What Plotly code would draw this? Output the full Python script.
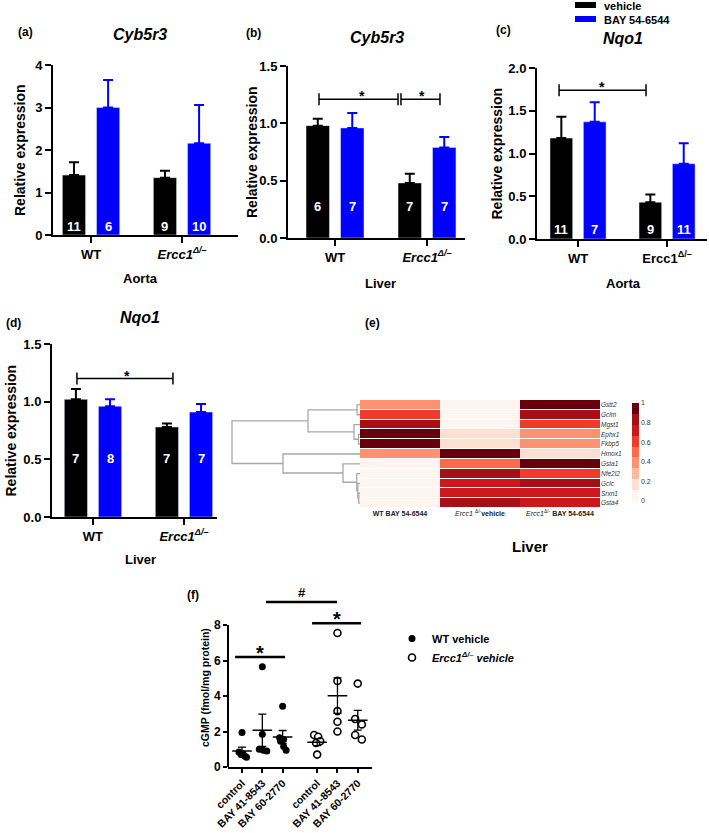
import numpy as np
import plotly.graph_objects as go

W, H = 709, 833

# ---------------- bar panels (a)-(d): mean, SEM, n ----------------
groups = ["WT", "Ercc1"]

a_vehicle = [1.41, 1.35]
a_vehicle_sem = [0.30, 0.16]
a_bay = [3.00, 2.16]
a_bay_sem = [0.65, 0.90]
a_n_vehicle = [11, 9]
a_n_bay = [6, 10]

b_vehicle = [0.98, 0.48]
b_vehicle_sem = [0.06, 0.08]
b_bay = [0.96, 0.79]
b_bay_sem = [0.13, 0.09]
b_n_vehicle = [6, 7]
b_n_bay = [7, 7]

c_vehicle = [1.18, 0.43]
c_vehicle_sem = [0.25, 0.09]
c_bay = [1.37, 0.88]
c_bay_sem = [0.23, 0.24]
c_n_vehicle = [11, 9]
c_n_bay = [7, 11]

d_vehicle = [1.02, 0.78]
d_vehicle_sem = [0.09, 0.03]
d_bay = [0.96, 0.91]
d_bay_sem = [0.06, 0.07]
d_n_vehicle = [7, 7]
d_n_bay = [8, 7]

# ---------------- heatmap (e) ----------------
genes = ["Gstt2", "Gclm", "Mgst1", "Ephx1", "Fkbp5", "Hmox1",
         "Gsta1", "Nfe2l2", "Gclc", "Srxn1", "Gsta4"]
conditions = ["<b>WT BAY 54-6544</b>",
              "<i>Ercc1</i> <sup>Δ/-</sup><b>vehicle</b>",
              "<i>Ercc1</i><sup>Δ/-</sup> <b>BAY 54-6544</b>"]
wt_bay = [0.40, 0.62, 0.85, 0.97, 0.97, 0.40, 0.03, 0.03, 0.03, 0.03, 0.03]
ercc1_vehicle = [0.03, 0.03, 0.03, 0.15, 0.15, 0.97, 0.50, 0.85, 0.72, 0.72, 0.85]
ercc1_bay = [0.97, 0.85, 0.62, 0.40, 0.40, 0.15, 0.97, 0.62, 0.85, 0.72, 0.72]
# row dendrogram merges: (left, right, height); ids >= 11 are earlier merges
linkage = [(0, 1, 0.3), (3, 4, 0.15), (2, 12, 0.6), (11, 13, 5.2),
           (9, 10, 0.12), (8, 15, 0.22), (7, 16, 0.32), (6, 17, 1.7),
           (5, 18, 7.7), (14, 19, 12.8)]

# ---------------- cGMP (f) ----------------
f_labels = ["control", "BAY 41-8543", "BAY 60-2770"] * 2
wt_control = [1.95, 0.85, 0.75, 0.70, 0.60, 0.55]
wt_bay41 = [5.65, 1.85, 1.00, 0.95, 0.90]
wt_bay60 = [3.42, 1.65, 1.55, 1.45, 1.15, 0.95]
ko_control = [1.80, 1.70, 1.45, 1.35, 0.70]
ko_bay41 = [7.55, 4.85, 3.15, 2.55, 2.00]
ko_bay60 = [4.70, 2.70, 2.40, 1.80, 1.55]

FONT = "Liberation Sans, Arial, sans-serif"
BLUE = "#0000ff"


def px(x):
    return x / W


def py(y):
    return 1 - y / H


fig = go.Figure()
annotations = []
shapes = []
layout = {}


def note(text, x, y, size=13, **kw):
    d = dict(text=text, x=px(x), y=py(y), xref="paper", yref="paper",
             xanchor="center", yanchor="middle", showarrow=False,
             font=dict(size=size, family=FONT, color="black"))
    d.update(kw)
    annotations.append(d)


# ---- bar panels ----
ercc_it = "<i>Ercc1<sup>Δ/–</sup></i>"
ercc_up = "Ercc1<sup>Δ/–</sup>"
panels = [
    dict(n=1, veh=a_vehicle, vs=a_vehicle_sem, bay=a_bay, bs=a_bay_sem,
         nv=a_n_vehicle, nb=a_n_bay, xpx=(53, 238), ypx=(65, 235),
         xr=(-0.418, 1.615), ymax=4, ticks=[0, 1, 2, 3, 4], fmt="{:.0f}",
         title="Cyb5r3", title_xy=(140, 35), letter="(a)", letter_xy=(25, 32),
         tissue="Aorta", tissue_xy=(140, 278), ytx=20, npx=9, ercc=ercc_it,
         brackets=[]),
    dict(n=2, veh=b_vehicle, vs=b_vehicle_sem, bay=b_bay, bs=b_bay_sem,
         nv=b_n_vehicle, nb=b_n_bay, xpx=(288, 465), ypx=(66, 238),
         xr=(-0.511, 1.413), ymax=1.5, ticks=[0, 0.5, 1, 1.5], fmt="{:.1f}",
         title="Cyb5r3", title_xy=(377, 37), letter="(b)", letter_xy=(253, 33),
         tissue="Liver", tissue_xy=(380, 283), ytx=252, npx=31, ercc=ercc_it,
         brackets=[(-0.174, 0.685, 1.21, 0.29), (0.717, 1.141, 1.21, 0.946)],
         tick_half=0.052),
    dict(n=3, veh=c_vehicle, vs=c_vehicle_sem, bay=c_bay, bs=c_bay_sem,
         nv=c_n_vehicle, nb=c_n_bay, xpx=(537, 707), ypx=(68, 239),
         xr=(-0.461, 1.449), ymax=2, ticks=[0, 0.5, 1, 1.5, 2], fmt="{:.1f}",
         title="Nqo1", title_xy=(623, 38), letter="(c)", letter_xy=(503, 30),
         tissue="Aorta", tissue_xy=(623, 283), ytx=496, npx=10, ercc=ercc_up,
         brackets=[(-0.213, 0.764, 1.74, 0.27)], tick_half=0.07),
    dict(n=4, veh=d_vehicle, vs=d_vehicle_sem, bay=d_bay, bs=d_bay_sem,
         nv=d_n_vehicle, nb=d_n_bay, xpx=(52, 217), ypx=(344, 517),
         xr=(-0.45, 1.363), ymax=1.5, ticks=[0, 0.5, 1, 1.5], fmt="{:.1f}",
         title="Nqo1", title_xy=(140, 317), letter="(d)", letter_xy=(13, 323),
         tissue="Liver", tissue_xy=(140, 559), ytx=10, npx=59, ercc=ercc_it,
         brackets=[(-0.176, 0.879, 1.2, 0.37)], tick_half=0.052),
]

for p in panels:
    n = p["n"]
    xa = "x" if n == 1 else f"x{n}"
    ya = "y" if n == 1 else f"y{n}"
    x = list(range(len(groups)))
    fig.add_trace(go.Bar(
        x=x, y=p["veh"], name="vehicle", marker_color="black", showlegend=False,
        error_y=dict(type="data", array=p["vs"], arrayminus=[0] * len(x), symmetric=False,
                     color="black", thickness=2, width=5),
        xaxis=xa, yaxis=ya))
    fig.add_trace(go.Bar(
        x=x, y=p["bay"], name="BAY 54-6544", marker_color=BLUE, showlegend=False,
        error_y=dict(type="data", array=p["bs"], arrayminus=[0] * len(x), symmetric=False,
                     color=BLUE, thickness=2, width=5),
        xaxis=xa, yaxis=ya))
    dom_h = p["ypx"][1] - p["ypx"][0]
    for i in x:
        for off, cnt in ((-0.1875, p["nv"][i]), (0.1875, p["nb"][i])):
            annotations.append(dict(
                text=f"<b>{cnt}</b>", x=i + off, xref=xa, y=p["npx"] / dom_h,
                yref=f"{ya} domain", xanchor="center", yanchor="middle", showarrow=False,
                font=dict(size=13, family=FONT, color="white")))
    layout["xaxis" if n == 1 else f"xaxis{n}"] = dict(
        domain=[px(p["xpx"][0]), px(p["xpx"][1])], range=list(p["xr"]), anchor=ya,
        tickvals=x, ticktext=["<b>WT</b>", f"<b>{p['ercc']}</b>"],
        showline=True, linewidth=2, linecolor="black", ticks="outside", ticklen=6,
        tickwidth=2, tickcolor="black", showgrid=False, zeroline=False,
        tickfont=dict(size=13, family=FONT, color="black"))
    layout["yaxis" if n == 1 else f"yaxis{n}"] = dict(
        domain=[py(p["ypx"][1]), py(p["ypx"][0])], range=[0, p["ymax"]], anchor=xa,
        tickvals=p["ticks"], ticktext=[p["fmt"].format(t) for t in p["ticks"]],
        showline=True, linewidth=2, linecolor="black", ticks="outside", ticklen=6,
        tickwidth=2, tickcolor="black", showgrid=False, zeroline=False,
        tickfont=dict(size=13, family=FONT, color="black", weight="bold"))
    note(f"<b><i>{p['title']}</i></b>", *p["title_xy"], size=16)
    note(f"<b>{p['letter']}</b>", *p["letter_xy"], size=12)
    note(f"<b>{p['tissue']}</b>", *p["tissue_xy"], size=13)
    note("<b>Relative expression</b>", p["ytx"], (p["ypx"][0] + p["ypx"][1]) / 2,
         size=14, textangle=-90)
    for x0, x1, yb, sx in p["brackets"]:
        th = p["tick_half"]
        ln = dict(type="line", xref=xa, yref=ya, line=dict(color="black", width=1.5))
        shapes.append(dict(ln, x0=x0, x1=x1, y0=yb, y1=yb))
        shapes.append(dict(ln, x0=x0, x1=x0, y0=yb - th, y1=yb + th))
        shapes.append(dict(ln, x0=x1, x1=x1, y0=yb - th, y1=yb + th))
        annotations.append(dict(text="<b>*</b>", x=sx, xref=xa, y=yb, yref=ya,
                                xanchor="center", yanchor="middle", yshift=3,
                                showarrow=False,
                                font=dict(size=14, family=FONT, color="black")))

# legend for bars (top right)
for yy, col, lab in ((5, "black", "vehicle"), (19, BLUE, "BAY 54-6544")):
    shapes.append(dict(type="rect", xref="paper", yref="paper", x0=px(575), x1=px(596),
                       y0=py(yy + 3), y1=py(yy - 3), fillcolor=col, line=dict(width=0)))
    note(f"<b>{lab}</b>", 602, yy + 1, size=11, xanchor="left")

# ---- heatmap (e) ----
reds = ["#fff5f0", "#fee0d2", "#fcbba1", "#fc9272", "#fb6a4a",
        "#ef3b2c", "#cb181d", "#a50f15", "#67000d"]
cscale = []
for i, c in enumerate(reds):
    cscale += [[i / len(reds), c], [(i + 1) / len(reds), c]]
z = np.array([wt_bay, ercc1_vehicle, ercc1_bay]).T
fig.add_trace(go.Heatmap(
    z=z, x=[0, 1, 2], y=list(range(len(genes))), colorscale=cscale, zmin=0, zmax=1,
    ygap=1, xaxis="x5", yaxis="y5", hoverinfo="skip",
    colorbar=dict(x=px(632), xanchor="left", y=py(452), yanchor="middle",
                  len=98, lenmode="pixels", thickness=7, thicknessmode="pixels",
                  tickvals=[0, 0.2, 0.4, 0.6, 0.8, 1],
                  ticktext=["0", "0.2", "0.4", "0.6", "0.8", "1"],
                  tickfont=dict(size=7, family=FONT, color="#333"),
                  outlinewidth=0, ticks="", xpad=0, ypad=0)))
hm_top, hm_bot = 400, 508
layout["xaxis5"] = dict(domain=[px(360), px(600)], range=[-0.5, 2.5], anchor="y5",
                        tickvals=[0, 1, 2], ticktext=conditions, ticks="",
                        showline=False, showgrid=False, zeroline=False,
                        tickfont=dict(size=7, family=FONT, color="#222"))
layout["yaxis5"] = dict(domain=[py(hm_bot), py(hm_top)], range=[len(genes) - 0.5, -0.5],
                        anchor="x5", side="right", tickvals=list(range(len(genes))),
                        ticktext=genes, ticks="", showline=False, showgrid=False,
                        zeroline=False,
                        tickfont=dict(size=6.5, family=FONT, color="#333", style="italic"))

# dendrogram
pos = {i: float(i) for i in range(len(genes))}
hgt = {i: 0.0 for i in range(len(genes))}
dx, dy = [], []
for k, (l, r, h) in enumerate(linkage):
    cid = len(genes) + k
    dx += [hgt[l], h, h, hgt[r], None]
    dy += [pos[l], pos[l], pos[r], pos[r], None]
    pos[cid] = (pos[l] + pos[r]) / 2
    hgt[cid] = h
fig.add_trace(go.Scatter(x=dx, y=dy, mode="lines", line=dict(color="#a8a8a8", width=1.3),
                         showlegend=False, hoverinfo="skip", xaxis="x6", yaxis="y6"))
layout["xaxis6"] = dict(domain=[px(230), px(360)], range=[13, 0], anchor="y6", visible=False)
layout["yaxis6"] = dict(domain=[py(hm_bot), py(hm_top)], range=[len(genes) - 0.5, -0.5],
                        anchor="x6", visible=False)
note("<b>(e)</b>", 372, 323, size=12)
note("<b>Liver</b>", 530, 546, size=15)

# ---- cGMP (f) ----
f_pos = [0, 1, 2, 3.7, 4.7, 5.7]
f_offsets = [
    [0, -0.15, 0.05, -0.05, 0.15, 0.22],
    [0, 0, -0.15, 0.05, 0.22],
    [0, -0.15, 0.05, -0.1, 0.05, 0.17],
    [-0.15, 0.05, 0.15, -0.05, 0],
    [0, 0, 0, 0, 0],
    [0, -0.13, 0.2, -0.13, 0.2],
]
f_sets = [wt_control, wt_bay41, wt_bay60, ko_control, ko_bay41, ko_bay60]
for gi, (vals, offs) in enumerate(zip(f_sets, f_offsets)):
    ko = gi >= 3
    first = gi in (0, 3)
    fig.add_trace(go.Scatter(
        x=[f_pos[gi] + o for o in offs], y=vals, mode="markers",
        name=("<i>Ercc1<sup>Δ/–</sup> vehicle</i>" if ko else "WT vehicle"),
        legendgroup="ko" if ko else "wt", showlegend=first,
        marker=dict(size=7, color="white" if ko else "black",
                    line=dict(color="black", width=1.6 if ko else 0)),
        xaxis="x7", yaxis="y7"))
    arr = np.array(vals)
    fig.add_trace(go.Scatter(
        x=[f_pos[gi]], y=[arr.mean()], mode="markers", showlegend=False,
        marker=dict(symbol="line-ew", size=14, line=dict(color="black", width=1.5)),
        error_y=dict(type="data", array=[arr.std(ddof=1) / np.sqrt(len(arr))],
                     color="black", thickness=1.3, width=4),
        xaxis="x7", yaxis="y7"))

f_bot, f_ppu = 767, 17.75
f_ymax = 10
layout["xaxis7"] = dict(domain=[px(228), px(372)], range=[-0.69, 6.4], anchor="y7",
                        tickvals=f_pos, ticktext=f_labels, tickangle=-45,
                        showline=True, linewidth=2, linecolor="black", ticks="outside",
                        ticklen=4, tickwidth=1.5, tickcolor="black", showgrid=False,
                        zeroline=False,
                        tickfont=dict(size=10.5, family=FONT, color="black", weight="bold"))
layout["yaxis7"] = dict(domain=[py(f_bot), py(f_bot - f_ymax * f_ppu)], range=[0, f_ymax],
                        anchor="x7", tickvals=[0, 2, 4, 6, 8], showline=False,
                        ticks="outside", ticklen=4, tickwidth=2, tickcolor="black",
                        showgrid=False, zeroline=False,
                        tickfont=dict(size=12, family=FONT, color="black", weight="bold"))
shapes.append(dict(type="line", xref="x7 domain", yref="y7", x0=0, x1=0, y0=0, y1=8,
                   line=dict(color="black", width=2)))
for x0, x1, yb, txt, sz, ys in ((-0.34, 2.12, 6.2, "*", 20, 4),
                                (3.45, 5.86, 8.1, "*", 20, 4),
                                (1.18, 4.68, 9.3, "#", 13, 9)):
    shapes.append(dict(type="line", xref="x7", yref="y7", x0=x0, x1=x1, y0=yb, y1=yb,
                       line=dict(color="black", width=2.5)))
    annotations.append(dict(text=f"<b>{txt}</b>", x=(x0 + x1) / 2, xref="x7", y=yb,
                            yref="y7", xanchor="center", yanchor="middle", yshift=ys,
                            showarrow=False,
                            font=dict(size=sz, family=FONT, color="black")))
note("<b>(f)</b>", 193, 595, size=12)
note("<b>cGMP (fmol/mg protein)</b>", 205, 688, size=10.5, textangle=-90)

layout.update(
    width=W, height=H, margin=dict(l=0, r=0, t=0, b=0, autoexpand=False),
    paper_bgcolor="white", plot_bgcolor="white",
    barmode="group", bargap=0.25, bargroupgap=0.32,
    font=dict(family=FONT, color="black"),
    showlegend=True,
    legend=dict(x=px(392), y=py(624), xanchor="left", yanchor="top",
                bgcolor="rgba(0,0,0,0)", tracegroupgap=0,
                font=dict(size=11, family=FONT, color="black", weight="bold")),
    annotations=annotations, shapes=shapes,
)
fig.update_layout(**layout)

# drop the default page margin so the figure sits at the top-left corner
fig.write_html("out.html", config={"displayModeBar": False},
               post_script="document.body.style.margin='0';document.body.style.overflow='hidden';")
